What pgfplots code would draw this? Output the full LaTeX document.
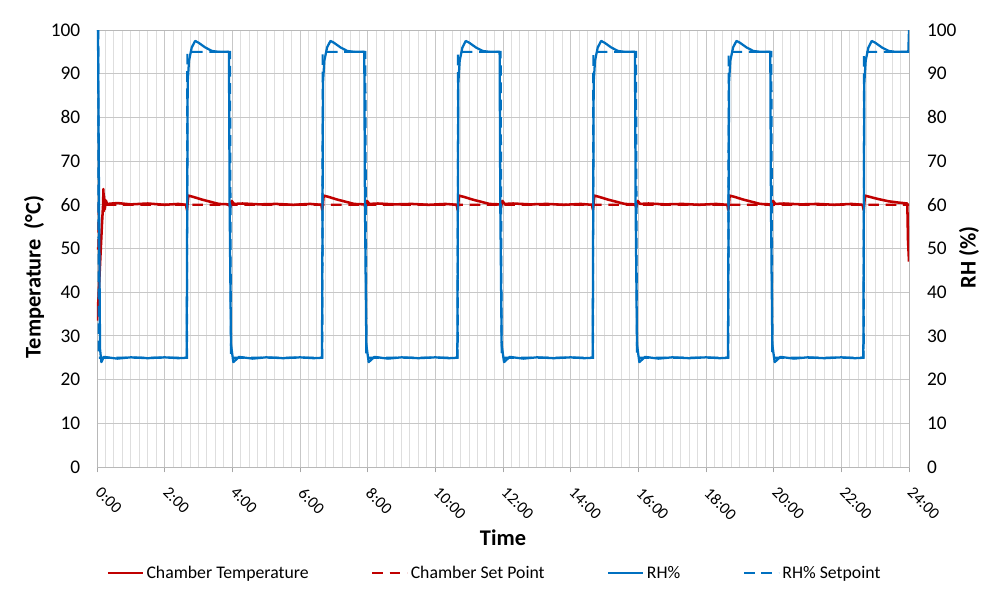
\documentclass[border=0pt]{standalone}
\usepackage{fontspec}
\setmainfont{Carlito}
\usepackage{pgfplots}
\pgfplotsset{compat=1.18}
\definecolor{tred}{RGB}{192,0,0}
\definecolor{rhblue}{RGB}{0,112,192}
\pgfplotsset{
  common/.style={
    scale only axis, width=609pt, height=327.75pt,
    xmin=0, xmax=24, ymin=0, ymax=100,
    ytick={0,10,...,100},
    /pgf/number format/assume math mode=true,
    y tick style={draw=none},
  }
}
\begin{document}
\begin{tikzpicture}
\begin{axis}[common, name=main,
  xtick={0,2,...,24},
  xticklabels={0:00,2:00,4:00,6:00,8:00,10:00,12:00,14:00,16:00,18:00,20:00,22:00,24:00},
  minor x tick num=7,
  xtick pos=bottom, ytick pos=left,
  grid=both,
  major grid style={draw=black!22, line width=0.7pt},
  minor grid style={draw=black!13, line width=0.7pt},
  axis line style={draw=black!28, line width=0.7pt},
  x tick style={draw=black!35, line width=0.7pt},
  minor x tick style={draw=none},
  tick align=outside, major tick length=4pt,
  yticklabel style={font=\fontsize{14.5}{17}\selectfont, xshift=-5pt},
  xticklabel style={rotate=-45, anchor=north west, inner sep=0pt, font=\fontsize{12.3}{14}\selectfont, xshift=10pt, yshift=-4.5pt},
  xlabel={Time},
  ylabel={Temperature\ \ (°C)},
  every axis x label/.style={at={(axis description cs:0.5,-0.162)}, anchor=center, font=\bfseries\fontsize{16.8}{20}\selectfont},
  every axis y label/.style={at={(axis description cs:-0.0776,0.435)}, rotate=90, anchor=center, font=\bfseries\fontsize{16.8}{20}\selectfont},
  legend style={at={(axis description cs:0.49,-0.2426)}, anchor=center, draw=none, fill=none,
    legend columns=4, font=\fontsize{13.3}{15}\selectfont,
    /tikz/every even column/.append style={column sep=45pt}},
  legend cell align=left,
  legend image code/.code={\draw[#1] (0pt,0pt) -- (26pt,0pt);},
]
% Chamber Set Point (drawn first, under the measured line)
\addplot[tred, line width=1.6pt, dash pattern=on 8pt off 5pt, forget plot] coordinates {
(0,50) (0.04,50) (0.05,60) (24,60)
};
% Chamber Temperature
\addplot[tred, line width=1.9pt, line join=round] coordinates {
(0,33.5) (0.04,38) (0.1,48) (0.15,56) (0.18,60) (0.19,63.6) (0.2,58.5) (0.21,62) (0.23,59) (0.26,61) (0.3,60.2) (0.6,60.4) (1.0,60.1) (1.5,60.3) (2.0,60.0) (2.4,60.2) (2.63,60.0) (2.66,58.8) (2.7,62.1) (2.85,61.8) (3.1,61.2) (3.4,60.6) (3.6,60.2) (3.9,60.1) (3.94,59.4) (3.98,60.9) (4.05,60.2)
(4.3,60.3) (4.8,60.1) (5.3,60.2) (5.8,60.0) (6.3,60.2) (6.63,60.0) (6.66,58.8) (6.7,62.1) (6.85,61.8) (7.1,61.2) (7.4,60.6) (7.6,60.2) (7.9,60.1) (7.94,59.4) (7.98,60.9) (8.05,60.2)
(8.3,60.3) (8.8,60.1) (9.3,60.2) (9.8,60.0) (10.3,60.2) (10.63,60.0) (10.66,58.8) (10.7,62.1) (10.85,61.8) (11.1,61.2) (11.4,60.6) (11.6,60.2) (11.9,60.1) (11.94,59.4) (11.98,60.9) (12.05,60.2)
(12.3,60.3) (12.8,60.1) (13.3,60.2) (13.8,60.0) (14.3,60.2) (14.63,60.0) (14.66,58.8) (14.7,62.1) (14.85,61.8) (15.1,61.2) (15.4,60.6) (15.6,60.2) (15.9,60.1) (15.94,59.4) (15.98,60.9) (16.05,60.2)
(16.3,60.3) (16.8,60.1) (17.3,60.2) (17.8,60.0) (18.3,60.2) (18.63,60.0) (18.66,58.8) (18.7,62.1) (18.85,61.8) (19.1,61.2) (19.4,60.6) (19.6,60.2) (19.9,60.1) (19.94,59.4) (19.98,60.9) (20.05,60.2)
(20.3,60.3) (20.8,60.1) (21.3,60.2) (21.8,60.0) (22.3,60.2) (22.63,60.0) (22.66,58.8) (22.7,62.1) (22.85,61.8) (23.1,61.3) (23.4,60.8) (23.7,60.5) (23.95,60.3) (23.97,52) (24,47)
};
\addlegendentry{Chamber Temperature}
\addlegendimage{tred, line width=1.6pt, dash pattern=on 8pt off 5pt}
\addlegendentry{Chamber Set Point}
% RH%
\addplot[rhblue, line width=1.7pt, line join=round] coordinates {
(0,100) (0.03,100) (0.06,60) (0.09,27) (0.13,24) (0.2,25.2) (0.6,24.8) (1.0,25.1) (1.5,24.9) (2.0,25.1) (2.4,24.9) (2.65,25) (2.68,88) (2.72,93) (2.8,96) (2.9,97.5) (3.0,97.1) (3.2,96) (3.4,95.2) (3.6,95) (3.9,95) (3.92,60) (3.96,28) (4.03,24) (4.1,24.5)
(4.2,25.2) (4.6,24.8) (5.0,25.1) (5.5,24.9) (6.0,25.1) (6.4,24.9) (6.65,25) (6.68,88) (6.72,93) (6.8,96) (6.9,97.5) (7.0,97.1) (7.2,96) (7.4,95.2) (7.6,95) (7.9,95) (7.92,60) (7.96,28) (8.03,24) (8.1,24.5)
(8.2,25.2) (8.6,24.8) (9.0,25.1) (9.5,24.9) (10.0,25.1) (10.4,24.9) (10.65,25) (10.68,88) (10.72,93) (10.8,96) (10.9,97.5) (11.0,97.1) (11.2,96) (11.4,95.2) (11.6,95) (11.9,95) (11.92,60) (11.96,28) (12.03,24) (12.1,24.5)
(12.2,25.2) (12.6,24.8) (13.0,25.1) (13.5,24.9) (14.0,25.1) (14.4,24.9) (14.65,25) (14.68,88) (14.72,93) (14.8,96) (14.9,97.5) (15.0,97.1) (15.2,96) (15.4,95.2) (15.6,95) (15.9,95) (15.92,60) (15.96,28) (16.03,24) (16.1,24.5)
(16.2,25.2) (16.6,24.8) (17.0,25.1) (17.5,24.9) (18.0,25.1) (18.4,24.9) (18.65,25) (18.68,88) (18.72,93) (18.8,96) (18.9,97.5) (19.0,97.1) (19.2,96) (19.4,95.2) (19.6,95) (19.9,95) (19.92,60) (19.96,28) (20.03,24) (20.1,24.5)
(20.2,25.2) (20.6,24.8) (21.0,25.1) (21.5,24.9) (22.0,25.1) (22.4,24.9) (22.65,25) (22.68,88) (22.72,93) (22.8,96) (22.9,97.5) (23.0,97.1) (23.2,96) (23.4,95.2) (23.6,95) (23.98,95) (24,100)
};
\addlegendentry{RH\%}
% RH% Setpoint
\addplot[rhblue, line width=1.6pt, dash pattern=on 8pt off 5pt] coordinates {
(0,100) (0.04,100) (0.05,25) (2.66,25) (2.67,95) (3.93,95) (3.96,25) (6.66,25) (6.67,95) (7.93,95) (7.96,25) (10.66,25) (10.67,95) (11.93,95) (11.96,25) (14.66,25) (14.67,95) (15.93,95) (15.96,25) (18.66,25) (18.67,95) (19.93,95) (19.96,25) (22.66,25) (22.67,95) (24,95)
};
\addlegendentry{RH\% Setpoint}
\end{axis}
\begin{axis}[common,
  axis y line*=right, axis x line=none,
  axis line style={draw=none},
  yticklabel style={font=\fontsize{14.5}{17}\selectfont, xshift=10pt},
  ylabel={RH (\%)},
  every axis y label/.style={at={(axis description cs:1.074,0.48)}, rotate=90, anchor=center, font=\bfseries\fontsize{16.8}{20}\selectfont},
]
\addplot[draw=none] coordinates {(0,0)};
\end{axis}
\pgfresetboundingbox
\path ([shift={(-72.75pt,-95.25pt)}]main.south west) rectangle ([shift={(56.25pt,22.5pt)}]main.north east);
\end{tikzpicture}
\end{document}
